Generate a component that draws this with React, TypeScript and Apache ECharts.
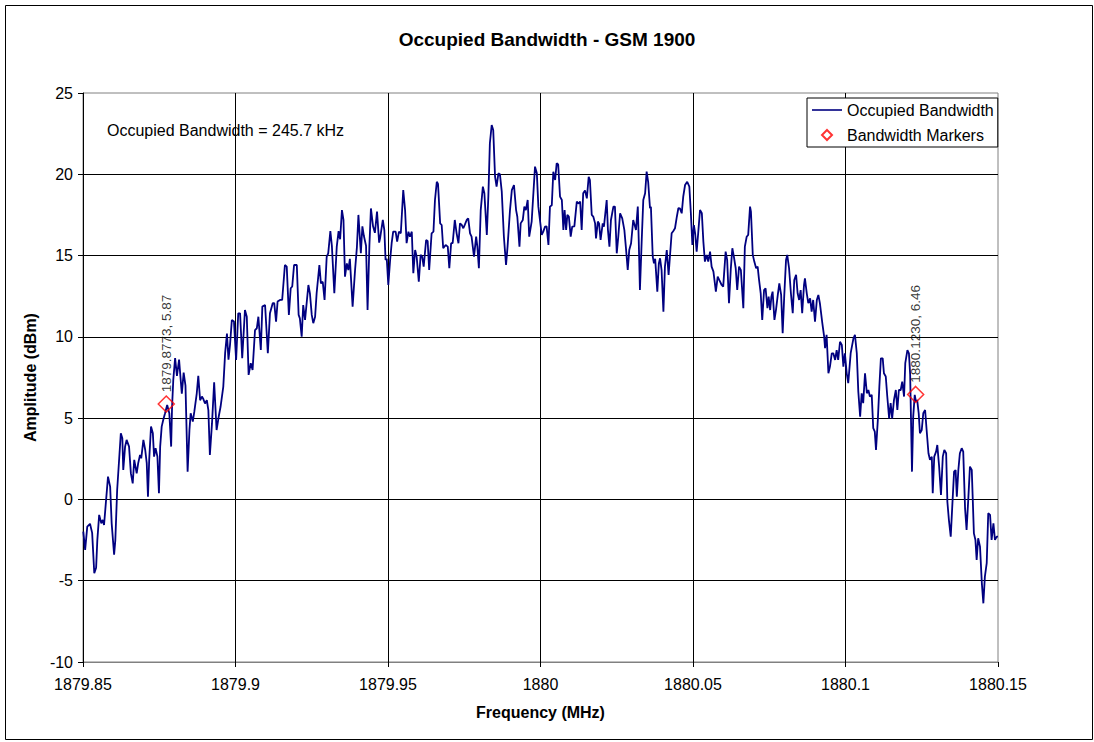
import React, { useEffect, useRef } from "react";
import * as echarts from "echarts";

// Spectrum trace: [frequency (MHz), amplitude (dBm)]
const trace: [number, number][] = [
  [1879.8501, -1.98], [1879.8507, -3.1], [1879.8514, -1.67], [1879.8523, -1.5], [1879.853, -2.06],
  [1879.8537, -4.54], [1879.8543, -4.2], [1879.8547, -2.5], [1879.8553, -0.95], [1879.856, -1.47],
  [1879.8565, -1.26], [1879.8569, -1.57], [1879.8582, 1.4], [1879.8589, 0.79], [1879.8594, -1.47],
  [1879.8602, -3.4], [1879.8606, -2.5], [1879.8612, 0.58], [1879.8624, 4.07], [1879.8629, 3.76],
  [1879.8632, 1.81], [1879.8638, 3.25], [1879.8643, 3.66], [1879.8651, 3.25], [1879.8657, 1.6],
  [1879.8663, 0.99], [1879.8668, 2.43], [1879.8676, 1.6], [1879.8681, 2.23], [1879.8687, 2.74],
  [1879.8691, 2.53], [1879.8698, 3.66], [1879.8704, 3.04], [1879.8709, 2.23], [1879.8713, 0.17],
  [1879.8717, 2.43], [1879.8723, 4.48], [1879.8729, 4.07], [1879.8733, 2.63], [1879.8738, 3.15],
  [1879.8744, 2.63], [1879.8749, 0.38], [1879.8753, 3.25], [1879.8758, 4.48], [1879.8763, 4.89],
  [1879.8769, 5.3], [1879.8776, 5.81], [1879.8783, 5.3], [1879.8789, 3.25], [1879.8792, 5.7],
  [1879.8796, 7.35], [1879.8802, 8.7], [1879.8808, 7.6], [1879.8815, 8.6], [1879.8824, 6.5],
  [1879.883, 7.8], [1879.8836, 7.0], [1879.8843, 1.7], [1879.8849, 4.27], [1879.8853, 5.3],
  [1879.886, 4.79], [1879.8865, 5.4], [1879.8873, 6.53], [1879.8878, 7.6], [1879.8884, 6.1],
  [1879.889, 6.33], [1879.8894, 6.2], [1879.89, 5.9], [1879.8906, 6.1], [1879.8911, 5.5],
  [1879.8916, 2.74], [1879.8923, 4.69], [1879.893, 7.2], [1879.8938, 4.27], [1879.8945, 5.1],
  [1879.8951, 5.7], [1879.896, 6.94], [1879.8966, 9.0], [1879.8972, 10.2], [1879.8977, 8.6],
  [1879.8982, 9.5], [1879.8988, 11.04], [1879.8995, 10.94], [1879.9002, 8.58], [1879.9009, 11.45],
  [1879.9015, 11.45], [1879.9022, 8.68], [1879.9031, 11.65], [1879.9037, 11.24], [1879.9043, 7.66],
  [1879.905, 8.38], [1879.9056, 7.96], [1879.9064, 10.42], [1879.907, 10.53], [1879.9075, 11.24],
  [1879.9083, 9.19], [1879.9088, 11.86], [1879.9097, 11.96], [1879.9106, 8.99], [1879.9113, 11.45],
  [1879.9122, 12.07], [1879.9127, 12.07], [1879.9133, 10.94], [1879.9138, 12.17], [1879.9146, 12.27],
  [1879.9153, 12.27], [1879.9162, 14.42], [1879.9168, 14.32], [1879.9175, 11.35], [1879.9181, 12.99],
  [1879.9186, 13.1], [1879.9192, 14.42], [1879.9201, 14.42], [1879.9207, 11.35], [1879.9211, 11.14],
  [1879.9217, 10.01], [1879.9222, 11.96], [1879.9228, 11.04], [1879.9239, 13.19], [1879.9244, 12.68],
  [1879.925, 11.35], [1879.9255, 10.84], [1879.9261, 11.24], [1879.9266, 12.68], [1879.9275, 14.42],
  [1879.928, 13.29], [1879.9286, 13.39], [1879.9292, 12.27], [1879.9299, 14.93], [1879.9304, 15.14],
  [1879.9311, 16.5], [1879.9316, 15.6], [1879.9324, 12.68], [1879.9332, 15.55], [1879.9338, 16.5],
  [1879.9343, 16.0], [1879.9349, 17.8], [1879.9354, 17.2], [1879.9359, 13.7], [1879.9365, 14.52],
  [1879.937, 14.11], [1879.9375, 14.8], [1879.9384, 11.86], [1879.9392, 14.11], [1879.9398, 15.5],
  [1879.9403, 17.5], [1879.9411, 15.14], [1879.9416, 16.8], [1879.9421, 16.2], [1879.9428, 15.6],
  [1879.9433, 11.65], [1879.9439, 15.6], [1879.9444, 17.9], [1879.9451, 16.8], [1879.9457, 16.4],
  [1879.9464, 17.7], [1879.9471, 15.8], [1879.9474, 16.06], [1879.9483, 17.19], [1879.9488, 16.57],
  [1879.9492, 14.73], [1879.9496, 14.8], [1879.9501, 13.19], [1879.9507, 14.73], [1879.9512, 15.76],
  [1879.9517, 16.47], [1879.9525, 16.47], [1879.953, 15.86], [1879.9536, 16.47], [1879.9542, 16.37],
  [1879.955, 19.03], [1879.9556, 17.8], [1879.9561, 15.76], [1879.9567, 16.47], [1879.9572, 16.16],
  [1879.9578, 16.47], [1879.9583, 13.91], [1879.9589, 15.34], [1879.9594, 14.93], [1879.9601, 13.39],
  [1879.9607, 15.04], [1879.9612, 14.93], [1879.9617, 14.32], [1879.9625, 15.96], [1879.963, 15.9],
  [1879.9635, 14.11], [1879.9643, 16.37], [1879.9649, 16.47], [1879.9654, 18.42], [1879.966, 19.54],
  [1879.9664, 19.4], [1879.9671, 16.98], [1879.9676, 16.88], [1879.9681, 15.45], [1879.9689, 15.65],
  [1879.9696, 15.55], [1879.9701, 14.22], [1879.9707, 15.76], [1879.9712, 15.76], [1879.9719, 17.19],
  [1879.9725, 16.37], [1879.9731, 15.76], [1879.9736, 16.98], [1879.9742, 16.88], [1879.9747, 16.68],
  [1879.9752, 16.9], [1879.9758, 17.19], [1879.9763, 17.29], [1879.9769, 16.37], [1879.9774, 16.16],
  [1879.9782, 14.93], [1879.9789, 16.16], [1879.9793, 15.55], [1879.9798, 14.22], [1879.9804, 17.8],
  [1879.9811, 19.24], [1879.9816, 18.83], [1879.9824, 16.27], [1879.9829, 18.63], [1879.9834, 21.91],
  [1879.984, 23.03], [1879.9845, 22.72], [1879.9851, 19.85], [1879.9856, 19.24], [1879.9862, 20.06],
  [1879.9867, 20.0], [1879.9873, 18.93], [1879.988, 16.16], [1879.9887, 14.42], [1879.9892, 15.55],
  [1879.99, 17.8], [1879.9906, 19.03], [1879.9913, 19.34], [1879.992, 17.8], [1879.9924, 17.39],
  [1879.9931, 15.55], [1879.9935, 16.98], [1879.9942, 17.19], [1879.9947, 18.01], [1879.9952, 17.8],
  [1879.9958, 18.42], [1879.9963, 16.16], [1879.9971, 17.09], [1879.9976, 18.63], [1879.9982, 20.47],
  [1879.9988, 20.06], [1879.9993, 18.01], [1880.0004, 16.27], [1880.0009, 16.47], [1880.0015, 16.78],
  [1880.002, 16.8], [1880.0026, 15.65], [1880.0031, 18.01], [1880.0037, 18.1], [1880.0042, 20.16],
  [1880.0048, 19.65], [1880.0053, 20.68], [1880.0058, 20.6], [1880.0064, 18.63], [1880.007, 18.42],
  [1880.0075, 16.57], [1880.0079, 17.8], [1880.0084, 16.57], [1880.0088, 17.5], [1880.0093, 17.4],
  [1880.0099, 16.16], [1880.0104, 16.78], [1880.0111, 16.8], [1880.0119, 18.32], [1880.0124, 18.2],
  [1880.013, 18.32], [1880.0135, 16.57], [1880.014, 18.83], [1880.0146, 19.0], [1880.0152, 18.52],
  [1880.0158, 19.85], [1880.0162, 19.65], [1880.0168, 17.5], [1880.0173, 17.4], [1880.0179, 16.98],
  [1880.0182, 16.06], [1880.0188, 17.09], [1880.0192, 16.98], [1880.0197, 15.96], [1880.0204, 16.98],
  [1880.0208, 16.78], [1880.0217, 18.42], [1880.0221, 16.6], [1880.0226, 15.55], [1880.0231, 17.19],
  [1880.0239, 18.01], [1880.0244, 18.01], [1880.025, 15.14], [1880.0255, 16.16], [1880.0261, 17.6],
  [1880.0268, 17.29], [1880.0275, 16.57], [1880.028, 15.5], [1880.0286, 14.11], [1880.0291, 15.34],
  [1880.0297, 15.76], [1880.0304, 17.19], [1880.031, 16.78], [1880.0313, 16.57], [1880.0319, 18.01],
  [1880.0322, 16.0], [1880.0326, 12.88], [1880.0332, 16.0], [1880.0337, 18.42], [1880.0343, 18.83],
  [1880.0348, 20.16], [1880.0353, 19.54], [1880.0359, 17.91], [1880.0362, 18.0], [1880.0368, 14.93],
  [1880.0372, 14.52], [1880.0376, 14.8], [1880.0383, 12.78], [1880.0388, 14.52], [1880.0392, 14.83],
  [1880.0397, 14.1], [1880.0403, 11.55], [1880.0408, 14.32], [1880.0414, 15.34], [1880.042, 13.81],
  [1880.0425, 15.1], [1880.043, 16.37], [1880.0435, 16.5], [1880.0441, 16.68], [1880.0447, 17.39],
  [1880.0452, 17.91], [1880.0457, 17.9], [1880.0463, 17.6], [1880.0468, 18.63], [1880.0474, 19.34],
  [1880.0481, 19.54], [1880.0488, 19.24], [1880.0493, 17.6], [1880.0498, 15.65], [1880.0503, 16.88],
  [1880.0507, 16.37], [1880.0512, 15.24], [1880.0517, 16.37], [1880.0523, 17.8], [1880.0529, 17.6],
  [1880.0534, 15.86], [1880.0539, 14.63], [1880.0545, 15.04], [1880.055, 14.63], [1880.0556, 15.24],
  [1880.0561, 14.32], [1880.0567, 14.01], [1880.0575, 12.78], [1880.0581, 13.7], [1880.0586, 13.5],
  [1880.0594, 13.19], [1880.0599, 13.09], [1880.0607, 15.24], [1880.0612, 14.73], [1880.0618, 12.07],
  [1880.0624, 14.2], [1880.0629, 15.45], [1880.0634, 14.93], [1880.064, 14.22], [1880.0645, 12.88],
  [1880.0651, 14.32], [1880.0657, 14.1], [1880.0665, 11.76], [1880.067, 15.55], [1880.0676, 16.16],
  [1880.0681, 16.27], [1880.0687, 18.01], [1880.069, 17.7], [1880.0696, 15.04], [1880.0701, 14.63],
  [1880.0707, 14.22], [1880.0712, 14.32], [1880.0716, 13.6], [1880.0722, 12.68], [1880.0727, 11.04],
  [1880.0733, 12.88], [1880.0738, 12.99], [1880.0744, 11.76], [1880.0748, 12.47], [1880.0753, 11.65],
  [1880.0757, 12.47], [1880.0761, 12.78], [1880.0767, 11.04], [1880.0772, 11.65], [1880.0778, 12.58],
  [1880.0783, 13.29], [1880.0789, 12.58], [1880.0794, 10.22], [1880.0799, 12.47], [1880.0805, 14.73],
  [1880.0809, 15.04], [1880.0815, 14.22], [1880.0821, 12.68], [1880.0827, 11.45], [1880.0832, 13.5],
  [1880.0838, 13.81], [1880.0843, 12.68], [1880.0848, 12.27], [1880.0853, 12.88], [1880.0858, 11.45],
  [1880.0864, 13.2], [1880.0867, 13.6], [1880.0873, 12.68], [1880.0878, 12.07], [1880.0884, 12.37],
  [1880.0889, 11.55], [1880.0894, 12.27], [1880.09, 10.94], [1880.0906, 12.27], [1880.0911, 12.58],
  [1880.0916, 12.07], [1880.0924, 10.84], [1880.093, 10.01], [1880.0933, 9.3], [1880.0938, 10.12],
  [1880.0944, 7.76], [1880.0949, 8.17], [1880.0955, 8.99], [1880.096, 8.99], [1880.0966, 8.58],
  [1880.0971, 9.19], [1880.0976, 8.58], [1880.0982, 9.7], [1880.0988, 9.5], [1880.0993, 8.17],
  [1880.0998, 8.99], [1880.1004, 7.76], [1880.1009, 7.15], [1880.1017, 9.0], [1880.1026, 9.91],
  [1880.1031, 10.12], [1880.1037, 8.99], [1880.1042, 6.63], [1880.1048, 5.09], [1880.1053, 6.53],
  [1880.1058, 5.92], [1880.1064, 7.76], [1880.107, 6.53], [1880.1075, 6.73], [1880.108, 6.33],
  [1880.1086, 6.43], [1880.1091, 4.38], [1880.1096, 4.17], [1880.11, 3.04], [1880.1106, 4.89],
  [1880.1111, 6.94], [1880.1116, 8.68], [1880.1122, 8.68], [1880.1126, 7.76], [1880.1132, 7.56],
  [1880.1137, 6.33], [1880.1143, 4.99], [1880.1148, 5.92], [1880.1153, 4.99], [1880.1159, 6.12],
  [1880.1165, 6.73], [1880.117, 5.5], [1880.1175, 6.73], [1880.1181, 6.73], [1880.1186, 7.25],
  [1880.1192, 6.33], [1880.1196, 8.38], [1880.1203, 9.19], [1880.1208, 8.99], [1880.1212, 7.66],
  [1880.1218, 1.71], [1880.1222, 5.09], [1880.1227, 6.43], [1880.1231, 6.02], [1880.1235, 6.12],
  [1880.124, 5.3], [1880.1244, 4.07], [1880.125, 4.27], [1880.1255, 5.3], [1880.1261, 5.5],
  [1880.1266, 4.27], [1880.1272, 2.84], [1880.1277, 2.43], [1880.1283, 2.63], [1880.1286, 0.38],
  [1880.1291, 2.63], [1880.1297, 2.94], [1880.1301, 3.35], [1880.1307, 2.02], [1880.1313, 0.27],
  [1880.1319, 2.63], [1880.1324, 3.04], [1880.133, 2.84], [1880.1334, -0.14], [1880.1339, -1.26],
  [1880.1345, -2.29], [1880.135, -0.45], [1880.1356, 1.71], [1880.1361, 1.81], [1880.1365, 0.17],
  [1880.137, 1.81], [1880.1375, 2.84], [1880.1381, 3.15], [1880.1386, 2.94], [1880.1392, -0.55],
  [1880.1397, -1.88], [1880.1403, 0.17], [1880.1408, 2.02], [1880.1414, 1.81], [1880.1421, -2.09],
  [1880.1426, -2.5], [1880.143, -3.72], [1880.1435, -2.39], [1880.1441, -2.9], [1880.1447, -5.15],
  [1880.1452, -6.39], [1880.1457, -4.75], [1880.1463, -3.92], [1880.1468, -0.85], [1880.1474, -0.95],
  [1880.1479, -2.49], [1880.1485, -1.47], [1880.149, -2.49], [1880.1496, -2.29], [1880.15, -2.29],
];

const markerFreqs = [1879.8773, 1880.123];
const markerAmps = [5.87, 6.46];

const titleText = "Occupied Bandwidth - GSM 1900";
const noteText = "Occupied Bandwidth = 245.7 kHz";
const lineName = "Occupied Bandwidth";
const markerName = "Bandwidth Markers";

const xMin = 1879.85;
const xMax = 1880.15;
const xStep = 0.05;
const yMin = -10;
const yMax = 25;
const yStep = 5;

const FONT = "'Liberation Sans', Arial, Helvetica, sans-serif";

export default function App() {
  const ref = useRef<HTMLDivElement>(null);

  useEffect(() => {
    if (!ref.current) return;
    const chart = echarts.init(ref.current, null, { renderer: "svg" });
    chart.setOption({
      animation: false,
      backgroundColor: "#ffffff",
      textStyle: { fontFamily: FONT },
      title: {
        text: titleText,
        left: "center",
        top: 25,
        textStyle: { fontFamily: FONT, fontSize: 19, fontWeight: "bold", color: "#000" },
      },
      grid: {
        left: 83,
        right: 96,
        top: 93,
        bottom: 80,
        show: true,
        borderColor: "#808080",
        borderWidth: 1,
        backgroundColor: "rgba(0,0,0,0)",
      },
      legend: {
        left: 807,
        top: 98,
        orient: "vertical",
        backgroundColor: "#ffffff",
        borderColor: "#000",
        borderWidth: 1,
        borderRadius: 0,
        padding: [3, 4, 3, 5],
        itemGap: 7,
        itemWidth: 30,
        itemHeight: 10,
        symbolKeepAspect: true,
        textStyle: { fontFamily: FONT, fontSize: 16, color: "#000", lineHeight: 18 },
        data: [
          { name: lineName, icon: "path://M0,0L30,0L30,1.6L0,1.6Z" },
          { name: markerName, icon: "path://M5,0L10,5L5,10L0,5Z" },
        ],
      },
      xAxis: {
        type: "value",
        min: xMin,
        max: xMax,
        interval: xStep,
        name: "Frequency (MHz)",
        nameLocation: "middle",
        nameGap: 42,
        nameTextStyle: { fontFamily: FONT, fontSize: 16, fontWeight: "bold", color: "#000" },
        axisLine: { show: true, onZero: false, lineStyle: { color: "#808080", width: 1 } },
        axisTick: { show: true, length: 5, lineStyle: { color: "#000" } },
        axisLabel: {
          margin: 14,
          fontFamily: FONT,
          fontSize: 16,
          color: "#000",
          formatter: (v: number) => String(Math.round(v * 100) / 100),
        },
        splitLine: {
          show: true,
          showMinLine: false,
          showMaxLine: false,
          lineStyle: { color: "#000", width: 1 },
        },
      },
      yAxis: {
        type: "value",
        min: yMin,
        max: yMax,
        interval: yStep,
        name: "Amplitude (dBm)",
        nameLocation: "middle",
        nameGap: 41,
        nameRotate: 90,
        nameTextStyle: { fontFamily: FONT, fontSize: 16, fontWeight: "bold", color: "#000" },
        axisLine: { show: true, onZero: false, lineStyle: { color: "#000", width: 1 } },
        axisTick: { show: true, length: 5, lineStyle: { color: "#000" } },
        axisLabel: { margin: 10, fontFamily: FONT, fontSize: 16, color: "#000" },
        splitLine: {
          show: true,
          showMinLine: false,
          showMaxLine: false,
          lineStyle: { color: "#000", width: 1 },
        },
      },
      series: [
        {
          name: lineName,
          type: "line",
          data: trace,
          symbol: "none",
          showSymbol: false,
          lineStyle: { color: "#000080", width: 1.8 },
          itemStyle: { color: "#000080" },
          z: 3,
        },
        {
          name: markerName,
          type: "scatter",
          data: markerFreqs.map((f, i) => [f, markerAmps[i]]),
          symbol: "diamond",
          symbolSize: 16,
          itemStyle: { color: "rgba(255,255,255,0)", borderColor: "#ff0000", borderWidth: 1.5 },
          label: {
            show: true,
            position: "top",
            rotate: 90,
            align: "left",
            verticalAlign: "middle",
            distance: 3,
            fontFamily: FONT,
            fontSize: 13.5,
            color: "#000",
            formatter: (p: any) => `${p.value[0].toFixed(4)}, ${p.value[1].toFixed(2)}`,
          },
          z: 5,
        },
      ],
      graphic: [
        {
          type: "rect",
          silent: true,
          shape: { x: 5.5, y: 5.5, width: 1087, height: 734 },
          style: { fill: "none", stroke: "#000", lineWidth: 1 },
          z: 0,
        },
        {
          type: "text",
          left: 107,
          top: 122,
          silent: true,
          style: { text: noteText, fontFamily: FONT, fontSize: 16, fill: "#000" },
          z: 10,
        },
      ],
    });
    return () => chart.dispose();
  }, []);

  return (
    <div
      ref={ref}
      style={{ position: "fixed", left: 0, top: 0, width: 1094, height: 742 }}
    />
  );
}
